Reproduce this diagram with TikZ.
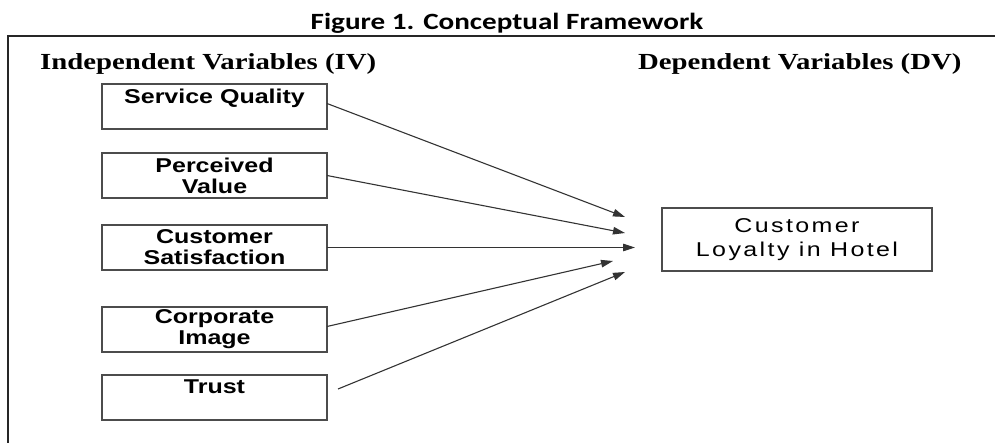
\documentclass[tikz,border=0pt]{standalone}
\usepackage{fontspec}
\usetikzlibrary{arrows.meta,positioning}
\newfontfamily\titlefont[FakeStretch=1.25]{Carlito}
\newfontfamily\headfont[FakeStretch=1.25]{Liberation Serif}
\newfontfamily\boxfont[FakeStretch=1.25]{Liberation Sans}
\newfontfamily\dvfont[FakeStretch=1.25,LetterSpace=12]{Liberation Sans}

\begin{document}
\begin{tikzpicture}[x=1pt,y=-1pt,
		var/.style={draw=black!70,line width=1.5pt,inner sep=0pt,outer sep=0pt,minimum width=225pt,minimum height=45pt,align=center,font=\boxfont\bfseries\fontsize{20}{21}\selectfont},
		head/.style={anchor=base west,inner sep=0pt,font=\headfont\bfseries\fontsize{23}{27}\selectfont},
		link/.style={draw=black!80,line width=1.1pt,-{Triangle[length=12pt,width=7.5pt]}}]
		\useasboundingbox (0,0) rectangle (995,443);
		\draw[line width=2pt,black!85] (8,443) -- (8,36) -- (995,36);
		\node [anchor=base,inner sep=0pt,font=\titlefont\bfseries\fontsize{23.3}{28}\selectfont] (title) at (507,30) {Figure 1. Conceptual Framework};
		\node [head] (iv) at (40,70) {Independent Variables (IV)};
		\node [head] (dv) at (638,70) {Dependent Variables (DV)};
		\node [var] (sq) at (214.5,106.5) {Service Quality\\~};
		\node [var,below=24pt of sq] (pv) {Perceived\\Value};
		\node [var,below=27pt of pv] (cs) {Customer\\Satisfaction};
		\node [var,below=37pt of cs] (ci) {Corporate\\Image};
		\node [var,below=23pt of ci] (tr) {Trust\\~};
		\node [draw=black!70,line width=1.5pt,inner sep=0pt,minimum width=270pt,minimum height=63pt,align=center,font=\dvfont\fontsize{20}{24}\selectfont] (hl) at (797,239.5) {Customer\\Loyalty in Hotel};
		\coordinate (t1) at (625,217);
		\coordinate (t2) at (625,233);
		\coordinate (t3) at (635,247.5);
		\coordinate (t4) at (613,261);
		\coordinate (t5) at (625,272);
		\coordinate (ts) at (338,389);
		\draw [link] ([yshift=3pt]sq.east) -- (t1);
		\draw [link] (pv.east) -- (t2);
		\draw [link] (cs.east) -- (t3);
		\draw [link] ([yshift=3pt]ci.east) -- (t4);
		\draw [link] (ts) -- (t5);
\end{tikzpicture}
\end{document}
